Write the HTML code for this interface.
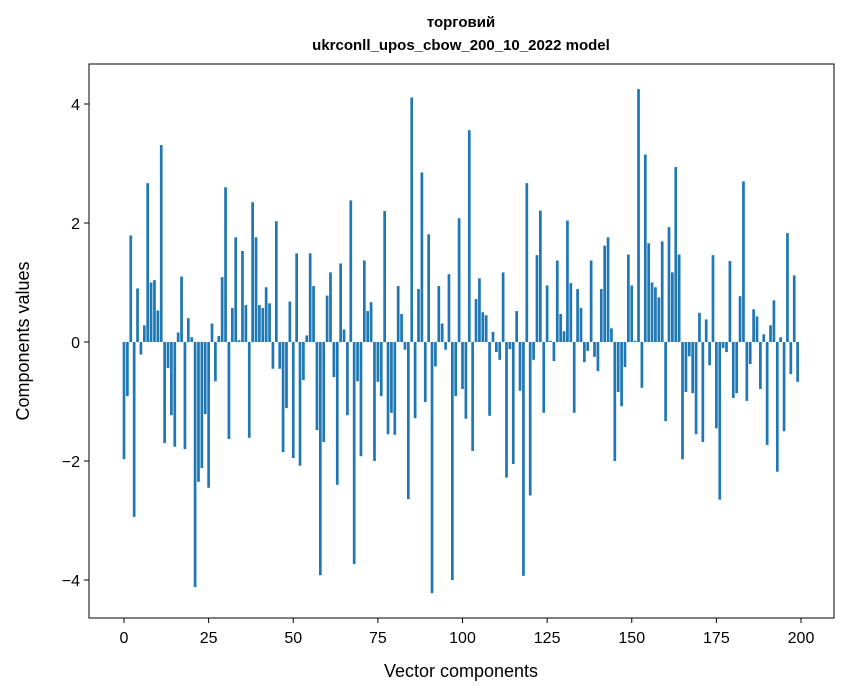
<!DOCTYPE html>
<html><head><meta charset="utf-8"><style>
body{margin:0;background:#fff;}
svg{display:block;font-family:"Liberation Sans","DejaVu Sans",sans-serif;}
</style></head><body>
<svg id="chart" width="847" height="696" viewBox="0 0 847 696" xmlns="http://www.w3.org/2000/svg">
<rect x="0" y="0" width="847" height="696" fill="#fff"/>
<text x="461" y="27" text-anchor="middle" font-size="15" font-weight="bold">торговий</text>
<text x="461" y="50" text-anchor="middle" font-size="15" font-weight="bold">ukrconll_upos_cbow_200_10_2022 model</text>
<g id="bars"></g>
<g id="xaxis"></g>
<g id="yaxis"></g>
<rect x="89" y="64" width="745" height="554" fill="none" stroke="#000" stroke-width="1"/>
<text x="461" y="677" text-anchor="middle" font-size="18">Vector components</text>
<text x="29" y="341" text-anchor="middle" font-size="18" transform="rotate(-90 29 341)">Components values</text>
</svg>
<script>
const values = [
-1.97,-0.91,1.79,-2.94,0.90,-0.21,0.28,2.67,1.0,1.04,
0.53,3.31,-1.70,-0.44,-1.23,-1.76,0.16,1.10,-1.80,0.40,
0.08,-4.12,-2.35,-2.12,-1.21,-2.45,0.31,-0.66,0.10,1.09,
2.60,-1.63,0.57,1.76,0.03,1.53,0.62,-1.61,2.35,1.76,
0.62,0.57,0.92,0.65,-0.45,2.03,-0.45,-1.85,-1.11,0.68,
-1.95,1.49,-2.08,-0.64,0.11,1.49,0.94,-1.48,-3.92,-1.68,
0.78,1.17,-0.59,-2.40,1.32,0.21,-1.23,2.38,-3.73,-0.66,
-1.92,1.37,0.52,0.67,-2.0,-0.67,-0.91,2.20,-1.55,-1.19,
-1.56,0.94,0.47,-0.13,-2.64,4.11,-1.28,0.89,2.85,-1.01,
1.81,-4.22,-0.41,0.94,0.31,-0.13,1.14,-4.0,-0.91,2.08,
-0.79,-1.29,3.56,-1.83,0.72,1.07,0.50,0.45,-1.24,0.17,
-0.17,-0.30,1.17,-2.28,-0.12,-2.05,0.52,-0.82,-3.93,2.67,
-2.58,-0.30,1.46,2.21,-1.19,0.95,0.02,-0.32,1.37,0.47,
0.18,2.04,0.99,-1.19,0.89,0.57,-0.34,-0.15,1.37,-0.25,
-0.49,0.89,1.62,1.76,0.23,-2.0,-0.84,-1.08,-0.42,1.47,
0.95,0.02,4.25,-0.77,3.15,1.66,1.0,0.92,0.75,1.69,
-1.33,1.93,1.17,2.94,1.47,-1.97,-0.84,-0.24,-0.86,-1.55,
0.49,-1.68,0.38,-0.39,1.46,-1.45,-2.65,-0.10,-0.17,1.36,
-0.94,-0.86,0.77,2.70,-0.99,-0.37,0.55,0.43,-0.79,0.13,
-1.73,0.28,0.70,-2.18,0.08,-1.50,1.83,-0.54,1.12,-0.67
];
const xTicks = [0,25,50,75,100,125,150,175,200];
const yTicks = [-4,-2,0,2,4];
const yTickLabels = ["\u22124","\u22122","0","2","4"];

const NS = "http://www.w3.org/2000/svg";
function xScale(v){ return 124 + (801-124)*v/200; }
function yScale(v){ return 342 - 59.5*v; }
const barW = 0.8*(801-124)/200;
const gBars = document.getElementById('bars');
values.forEach((v,i)=>{
  const r = document.createElementNS(NS,'rect');
  const y0 = yScale(0), y1 = yScale(v);
  r.setAttribute('x', xScale(i)-barW/2);
  r.setAttribute('y', Math.min(y0,y1));
  r.setAttribute('width', barW);
  r.setAttribute('height', Math.abs(y1-y0));
  r.setAttribute('fill','#1f77b4');
  
  
  gBars.appendChild(r);
});
const gx = document.getElementById('xaxis');
xTicks.forEach(t=>{
  const x = xScale(t);
  const l = document.createElementNS(NS,'line');
  l.setAttribute('x1',x);l.setAttribute('x2',x);l.setAttribute('y1',618);l.setAttribute('y2',623);
  l.setAttribute('stroke','#000');
  
  
  gx.appendChild(l);
  const tx = document.createElementNS(NS,'text');
  tx.setAttribute('x',x);tx.setAttribute('y',643);tx.setAttribute('text-anchor','middle');tx.setAttribute('font-size','16');
  tx.textContent = t;
  
  
  gx.appendChild(tx);
});
const gy = document.getElementById('yaxis');
yTicks.forEach((t,i)=>{
  const y = yScale(t);
  const l = document.createElementNS(NS,'line');
  l.setAttribute('x1',84);l.setAttribute('x2',89);l.setAttribute('y1',y);l.setAttribute('y2',y);
  l.setAttribute('stroke','#000');
  
  
  gy.appendChild(l);
  const tx = document.createElementNS(NS,'text');
  tx.setAttribute('x',80);tx.setAttribute('y',y+6);tx.setAttribute('text-anchor','end');tx.setAttribute('font-size','16');
  tx.textContent = yTickLabels[i];
  
  
  gy.appendChild(tx);
});
</script>
</body></html>
